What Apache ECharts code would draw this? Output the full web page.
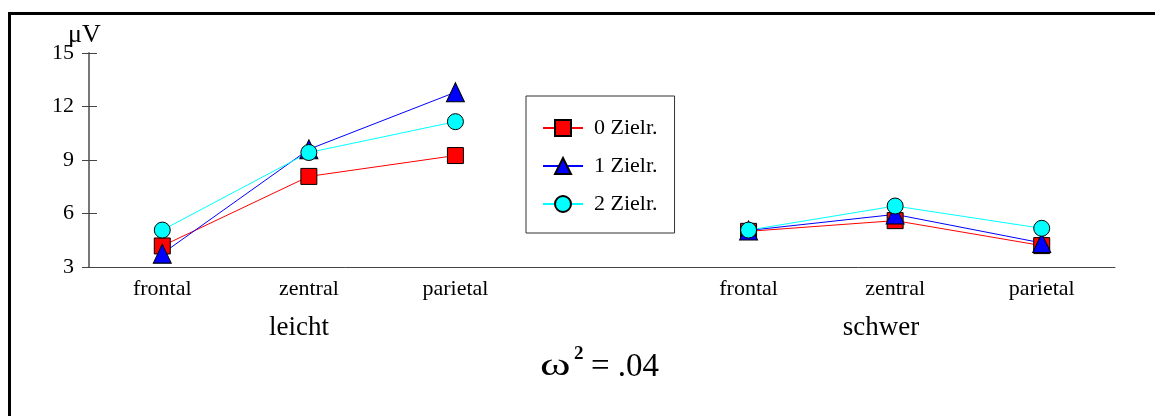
<!DOCTYPE html>
<html>
<head>
<meta charset="utf-8">
<script src="https://cdn.jsdelivr.net/npm/echarts@6/dist/echarts.min.js"></script>
<style>
html,body{margin:0;padding:0;background:#fff;}
#chart{width:1155px;height:416px;}
</style>
</head>
<body>
<div id="chart"></div>
<script>
// ---- data ----
var categories = ['frontal', 'zentral', 'parietal', '', 'frontal', 'zentral', 'parietal'];
var groupLabels = ['leicht', 'schwer'];
var seriesNames = ['0 Zielr.', '1 Zielr.', '2 Zielr.'];
var zielr0 = [4.18, 8.08, 9.25, null, 5.00, 5.60, 4.20];
var zielr1 = [3.75, 9.60, 12.80, null, 5.05, 5.95, 4.35];
var zielr2 = [5.07, 9.42, 11.15, null, 5.07, 6.42, 5.17];
var yTicks = [3, 6, 9, 12, 15];
var yUnit = 'μV';
var effectLabel = ['ω', '2', '= .04'];

var FONT = '"Liberation Serif", "Times New Roman", serif';
var chart = echarts.init(document.getElementById('chart'), null, {renderer: 'canvas'});

function mkSeries(name, data, color, symbol, size) {
  return {
    name: name,
    type: 'line',
    data: data,
    connectNulls: false,
    symbol: symbol,
    symbolSize: size,
    showAllSymbol: true,
    lineStyle: {color: color, width: 1},
    itemStyle: {color: color, borderColor: '#000', borderWidth: 1},
    emphasis: {disabled: true},
    animation: false
  };
}

var option = {
  animation: false,
  backgroundColor: '#fff',
  grid: {left: 89, right: 40, top: 53, bottom: 149, containLabel: false},
  legend: {
    orient: 'vertical',
    left: 526,
    top: 96,
    data: seriesNames,
    itemWidth: 40,
    itemHeight: 20,
    itemGap: 16,
    padding: [21, 17, 18, 16],
    backgroundColor: '#fff',
    borderColor: '#333',
    borderWidth: 1,
    textStyle: {fontFamily: FONT, fontSize: 22, color: '#000', lineHeight: 20, padding: [0, 0, 0, 6]}
  },
  xAxis: {
    type: 'category',
    data: categories,
    boundaryGap: true,
    axisLine: {lineStyle: {color: '#444', width: 1}},
    axisTick: {alignWithLabel: true, length: 7, lineStyle: {color: '#444'}},
    axisLabel: {fontFamily: FONT, fontSize: 22, color: '#000', margin: 11, interval: 0},
    splitLine: {show: false}
  },
  yAxis: [{
    type: 'value',
    min: yTicks[0],
    max: yTicks[yTicks.length - 1],
    interval: yTicks[1] - yTicks[0],
    position: 'left',
    axisLine: {show: true, lineStyle: {color: '#777', width: 2}},
    axisTick: {show: true, length: 7, lineStyle: {color: '#444'}},
    axisLabel: {fontFamily: FONT, fontSize: 22, color: '#000', margin: 15},
    splitLine: {show: false}
  }, {
    type: 'value',
    min: yTicks[0],
    max: yTicks[yTicks.length - 1],
    interval: yTicks[1] - yTicks[0],
    position: 'left',
    axisLine: {show: false},
    axisTick: {show: true, inside: true, length: 8, lineStyle: {color: '#444'}},
    axisLabel: {show: false},
    splitLine: {show: false}
  }],
  series: [
    mkSeries(seriesNames[0], zielr0, '#ff0000', 'rect', 16),
    mkSeries(seriesNames[1], zielr1, '#0000ff', 'triangle', [18, 19]),
    mkSeries(seriesNames[2], zielr2, '#00ffff', 'circle', 16)
  ],
  graphic: [
    {type: 'rect', silent: true, z: 100,
     shape: {x: 9.5, y: 13.5, width: 2000, height: 1000},
     style: {fill: 'none', stroke: '#000', lineWidth: 3}},
    {type: 'text', silent: true, x: 68, y: 35,
     style: {text: yUnit, font: '26px ' + FONT, fill: '#000', align: 'left', verticalAlign: 'middle'}},
    {type: 'text', silent: true, x: 299, y: 328,
     style: {text: groupLabels[0], font: '27px ' + FONT, fill: '#000', align: 'center', verticalAlign: 'middle'}},
    {type: 'text', silent: true, x: 881, y: 328,
     style: {text: groupLabels[1], font: '27px ' + FONT, fill: '#000', align: 'center', verticalAlign: 'middle'}},
    {type: 'text', silent: true, x: 540, y: 367, scaleX: 1.45,
     style: {text: effectLabel[0], font: '32px ' + FONT, fill: '#000', align: 'left', verticalAlign: 'middle'}},
    {type: 'text', silent: true, x: 574, y: 354,
     style: {text: effectLabel[1], font: 'bold 19px ' + FONT, fill: '#000', align: 'left', verticalAlign: 'middle'}},
    {type: 'text', silent: true, x: 591, y: 367,
     style: {text: effectLabel[2], font: '33px ' + FONT, fill: '#000', align: 'left', verticalAlign: 'middle'}}
  ]
};
chart.setOption(option);
</script>
</body>
</html>
